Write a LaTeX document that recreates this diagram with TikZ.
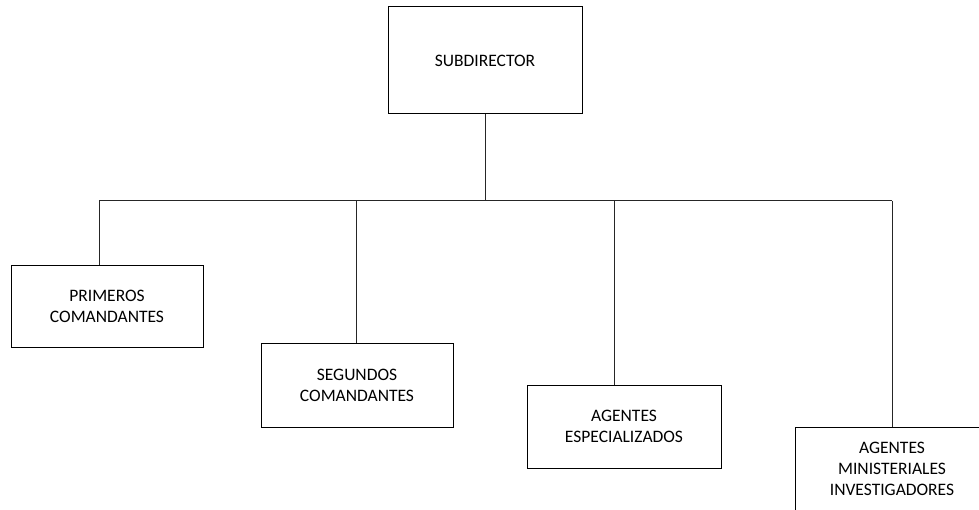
\documentclass[tikz,border=0pt]{standalone}
\usepackage{fontspec}
\setmainfont{Carlito}
\usepackage{tikz}

\begin{document}
\begin{tikzpicture}[
  x=1pt, y=-1pt,
  box/.style={draw, line width=1pt, align=center, inner sep=0pt,
    minimum width=194pt, minimum height=83pt,
    font=\fontsize{17.5}{21}\selectfont},
  link/.style={line width=1pt, draw=black!85}
]
  \useasboundingbox (0,0) rectangle (979,510);

  % boxes
  \node[box, minimum height=107pt] (sub) at (485,60.5) {SUBDIRECTOR};
  \node[box, minimum width=192pt, minimum height=81pt] (prim) at (107,306.5) {PRIMEROS\\COMANDANTES};
  \node[box, minimum width=192pt, minimum height=84pt] (seg) at (357,385) {SEGUNDOS\\COMANDANTES};
  \node[box] (esp) at (624,426.5) {AGENTES\\ESPECIALIZADOS};
  \node[box, minimum height=84pt] (min) at (892,469) {AGENTES\\MINISTERIALES\\INVESTIGADORES};

  % bus
  \coordinate (busL) at (99,201);
  \coordinate (busR) at (892,201);
  \draw[link] (busL) -- (busR);
  \draw[link] (sub.south) -- (sub.south |- busL);

  % children
  \draw[link] (busL) -- (busL |- prim.north);
  \draw[link] (356,201) -- (356,343);
  \draw[link] (614,201) -- (614,385);
  \draw[link] (busR) -- (min.north);
\end{tikzpicture}
\end{document}
